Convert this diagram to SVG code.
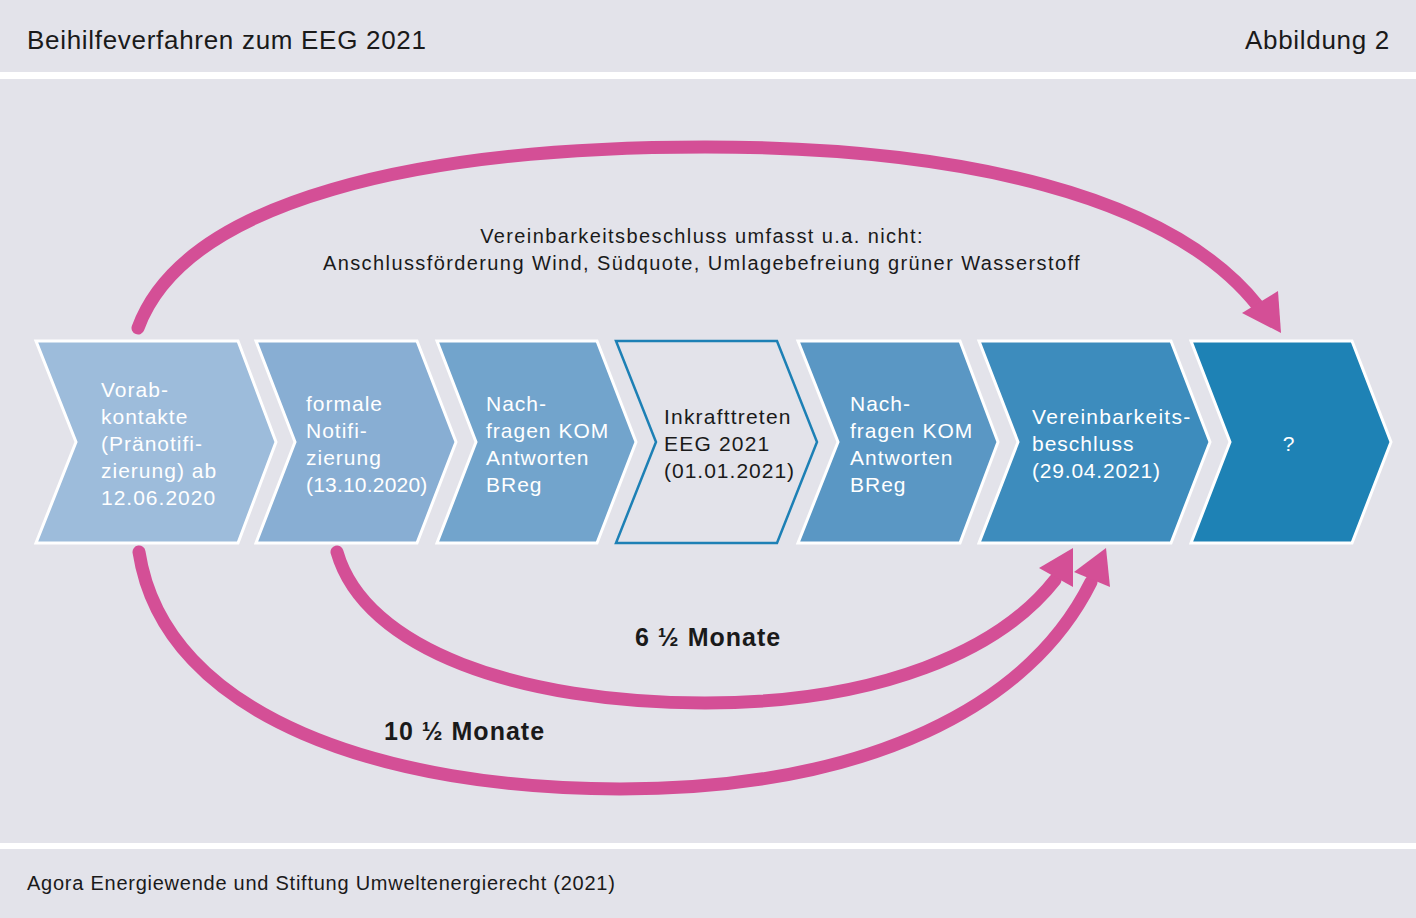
<svg xmlns="http://www.w3.org/2000/svg" width="1416" height="918" viewBox="0 0 1416 918">
<style>
.bg{fill:#e3e3ea}
.t{font-family:"Liberation Sans",Arial,sans-serif}
.hd{font-size:26px;fill:#1a1a1a;letter-spacing:0.7px}
.ft{font-size:20px;fill:#1a1a1a;letter-spacing:0.75px}
.wt{font-size:21px;fill:#ffffff;letter-spacing:1px}
.bt{font-size:21px;fill:#1a1a1a;letter-spacing:1.2px}
.nt{font-size:20px;fill:#1a1a1a;letter-spacing:1.4px}
.lb{font-size:25px;font-weight:bold;fill:#1a1a1a;letter-spacing:1px}
.chev{stroke:#ffffff;stroke-width:3;stroke-linejoin:miter}
.arc{fill:none;stroke:#d44f96;stroke-width:13;stroke-linecap:round}
.head{fill:#d44f96}
</style>
<rect x="0" y="0" width="1416" height="918" fill="#ffffff"/>
<rect class="bg" x="0" y="0" width="1416" height="72"/>
<rect class="bg" x="0" y="79" width="1416" height="764"/>
<rect class="bg" x="0" y="849" width="1416" height="69"/>
<text class="t hd" x="27" y="49">Beihilfeverfahren zum EEG 2021</text>
<text class="t hd" x="1390" y="49" text-anchor="end">Abbildung 2</text>
<text class="t ft" x="27" y="890">Agora Energiewende und Stiftung Umweltenergierecht (2021)</text>

<g id="c1">
<polygon class="chev" fill="#9dbcdb" points="36,341 238,341 276,442 238,543 36,543 76,442"/>
<text class="t wt" x="101" y="397">Vorab-</text>
<text class="t wt" x="101" y="424">kontakte</text>
<text class="t wt" x="101" y="451">(Pränotifi-</text>
<text class="t wt" x="101" y="478">zierung) ab</text>
<text class="t wt" x="101" y="505">12.06.2020</text>
</g>
<g id="c2">
<polygon class="chev" fill="#88aed3" points="256,341 417,341 456,442 417,543 256,543 295,442"/>
<text class="t wt" x="306" y="411">formale</text>
<text class="t wt" x="306" y="438">Notifi-</text>
<text class="t wt" x="306" y="465">zierung</text>
<text class="t wt" x="306" y="492" style="letter-spacing:0.2px">(13.10.2020)</text>
</g>
<g id="c3">
<polygon class="chev" fill="#72a4cc" points="437,341 597,341 636,442 597,543 437,543 476,442"/>
<text class="t wt" x="486" y="411">Nach-</text>
<text class="t wt" x="486" y="438">fragen KOM</text>
<text class="t wt" x="486" y="465">Antworten</text>
<text class="t wt" x="486" y="492">BReg</text>
</g>
<g id="c4">
<polygon fill="#e3e3ea" stroke="#1d80b5" stroke-width="2.5" points="616,341 777,341 817,442 777,543 616,543 656,442"/>
<text class="t bt" x="664" y="424">Inkrafttreten</text>
<text class="t bt" x="664" y="451">EEG 2021</text>
<text class="t bt" x="664" y="478" style="letter-spacing:1px">(01.01.2021)</text>
</g>
<g id="c5">
<polygon class="chev" fill="#5a97c4" points="798,341 960,341 998,442 960,543 798,543 838,442"/>
<text class="t wt" x="850" y="411">Nach-</text>
<text class="t wt" x="850" y="438">fragen KOM</text>
<text class="t wt" x="850" y="465">Antworten</text>
<text class="t wt" x="850" y="492">BReg</text>
</g>
<g id="c6">
<polygon class="chev" fill="#3d8cbd" points="979,341 1171,341 1210,442 1171,543 979,543 1018,442"/>
<text class="t wt" x="1032" y="424" style="letter-spacing:1.3px">Vereinbarkeits-</text>
<text class="t wt" x="1032" y="451">beschluss</text>
<text class="t wt" x="1032" y="478" style="letter-spacing:0.8px">(29.04.2021)</text>
</g>
<g id="c7">
<polygon class="chev" fill="#1e82b5" points="1191,341 1352,341 1391,442 1352,543 1191,543 1230,442"/>
<text class="t wt" x="1289" y="451" text-anchor="middle">?</text>
</g>

<g id="connectors">
<path class="arc" d="M138,328 C 185,200 420,147 705,147 C 960,147 1170,195 1258,306"/>
<polygon class="head" points="1281,333 1242,313 1278,291"/>
<path class="arc" d="M337,552 C 365,650 520,703 705,703 C 880,703 1000,650 1055,580"/>
<polygon class="head" points="1073,548 1039,568 1073,587"/>
<path class="arc" d="M139,552 C 165,720 390,789 620,789 C 870,789 1030,705 1091,582"/>
<polygon class="head" points="1106,548 1074,572 1110,587"/>
</g>

<text class="t nt" x="702" y="243" text-anchor="middle">Vereinbarkeitsbeschluss umfasst u.a. nicht:</text>
<text class="t nt" x="702" y="270" text-anchor="middle">Anschlussförderung Wind, Südquote, Umlagebefreiung grüner Wasserstoff</text>
<text class="t lb" x="635" y="646">6 ½ Monate</text>
<text class="t lb" x="384" y="740">10 ½ Monate</text>
</svg>
